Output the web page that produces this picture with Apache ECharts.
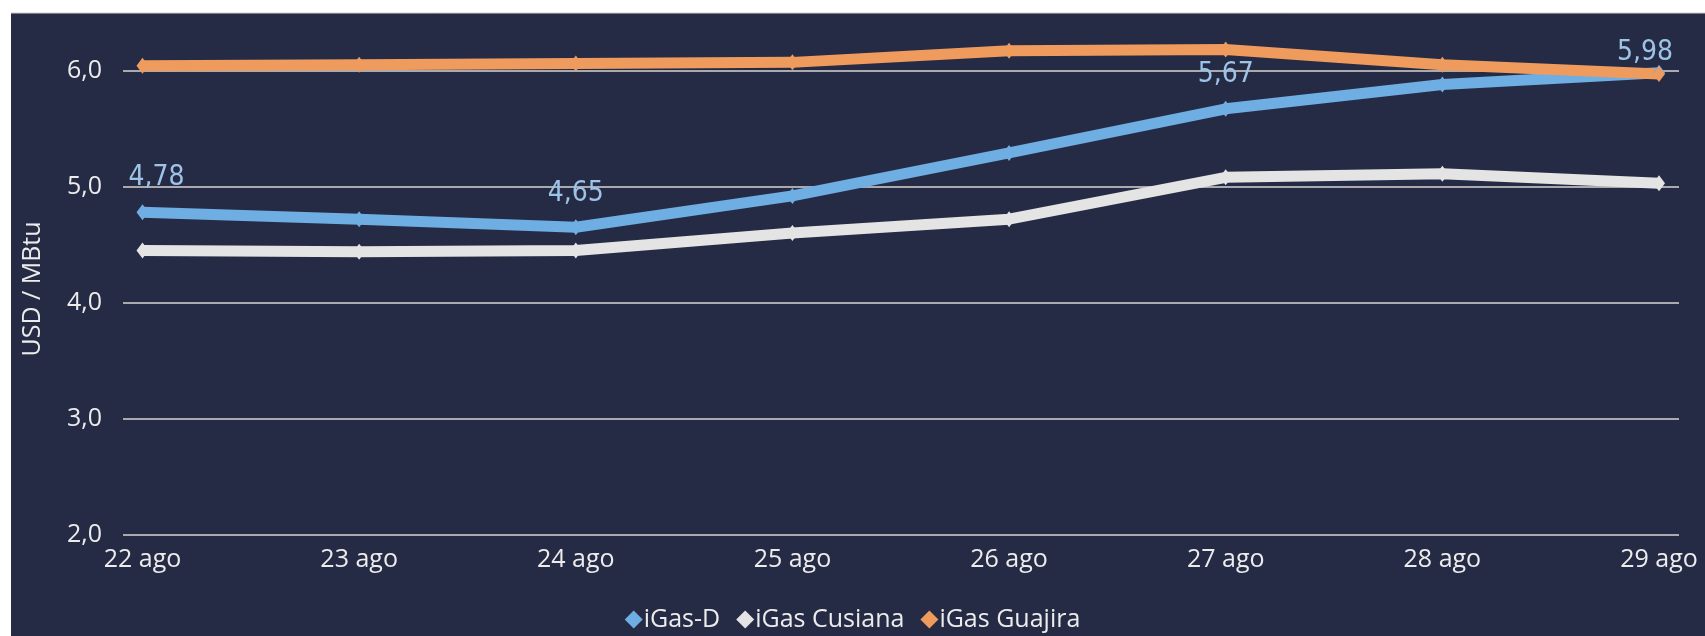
<!DOCTYPE html>
<html>
<head>
<meta charset="utf-8">
<script src="https://cdn.jsdelivr.net/npm/echarts@6/dist/echarts.min.js"></script>
<style>
html,body{margin:0;padding:0;background:#ffffff;}
#chart{width:1705px;height:636px;}
</style>
</head>
<body>
<div id="chart"></div>
<script>
const categories = ['22 ago','23 ago','24 ago','25 ago','26 ago','27 ago','28 ago','29 ago'];
const igasD      = [4.78, 4.72, 4.65, 4.92, 5.29, 5.67, 5.88, 5.98];
const igasCusiana= [4.45, 4.44, 4.45, 4.60, 4.72, 5.08, 5.11, 5.03];
const igasGuajira= [6.04, 6.05, 6.06, 6.07, 6.17, 6.18, 6.05, 5.97];
const yTicks = [2, 3, 4, 5, 6];
const labelIdx = [0, 2, 5, 7];
const yTitle = 'USD / MBtu';

const cBlue = '#6EAEE3', cWhite = '#E4E4E4', cOrange = '#EF9B5E', bg = '#252B44';
const chart = echarts.init(document.getElementById('chart'));

const labelOffsets = {0:[14,2], 2:[0,2], 5:[0,2], 7:[-14,16]};

function mkSeries(name, data, color, withLabels){
  return {
    name, type:'line', xAxisIndex:1, yAxisIndex:1, data: data.map((v,i)=>{
      const o = {value:v};
      if (withLabels && labelIdx.includes(i)) {
        o.label = {show:true, offset: labelOffsets[i]};
      }
      return o;
    }),
    clip:false,
    symbol:'diamond', symbolSize:[12,16], showAllSymbol:true,
    lineStyle:{color, width:11},
    itemStyle:{color},
    label:{show:false, position:'top', distance:14, color:'#9DC3E6',
      fontFamily:'DejaVu Sans Condensed', fontSize:28,
      formatter: p => p.value.toFixed(2).replace('.', ',')},
    emphasis:{disabled:true}
  };
}

chart.setOption({
  animation:false,
  graphic:[
    {type:'rect', shape:{x:11,y:13,width:1694,height:623}, style:{fill:bg}, z:-100, silent:true},
    {type:'line', shape:{x1:11,y1:13,x2:1705,y2:13}, style:{stroke:'#cfcfcf', lineWidth:1}, z:-99, silent:true},
    {type:'text', x:33, y:289, rotation:Math.PI/2, silent:true,
      style:{text:yTitle, fill:'#ECECEC', font:'25px "Open Sans"', align:'center', verticalAlign:'middle'}}
  ],
  legend:{
    left:'center', top:602,
    icon:'diamond', itemWidth:18, itemHeight:18, itemGap:16,
    textStyle:{color:'#ECECEC', fontFamily:'Open Sans', fontSize:25, padding:[0,0,0,-4]},
    data:['iGas-D','iGas Cusiana','iGas Guajira']
  },
  grid:[
    {left:123, right:26, top:70.5, bottom:101},
    {left:142.5, right:46, top:70.5, bottom:101}
  ],
  xAxis:[
    {gridIndex:0, type:'category', data:categories, show:false},
    {gridIndex:1, type:'category', data:categories, boundaryGap:false,
      axisLine:{show:false}, axisTick:{show:false},
      axisLabel:{color:'#ECECEC', fontFamily:'Open Sans', fontSize:25, margin:12, interval:0},
      splitLine:{show:false}}
  ],
  yAxis:[
    {gridIndex:0, type:'value', min:yTicks[0], max:yTicks[yTicks.length-1], interval:1,
      axisLine:{show:false}, axisTick:{show:false},
      axisLabel:{color:'#ECECEC', fontFamily:'Open Sans', fontSize:25, margin:21,
        formatter: v => v.toFixed(1).replace('.', ',')},
      splitLine:{lineStyle:{color:'#A9A9AE', width:2}}},
    {gridIndex:1, type:'value', min:yTicks[0], max:yTicks[yTicks.length-1], interval:1, show:false, splitLine:{show:false}}
  ],
  series:[
    mkSeries('iGas-D', igasD, cBlue, true),
    mkSeries('iGas Cusiana', igasCusiana, cWhite, false),
    mkSeries('iGas Guajira', igasGuajira, cOrange, false)
  ]
});
</script>
</body>
</html>
